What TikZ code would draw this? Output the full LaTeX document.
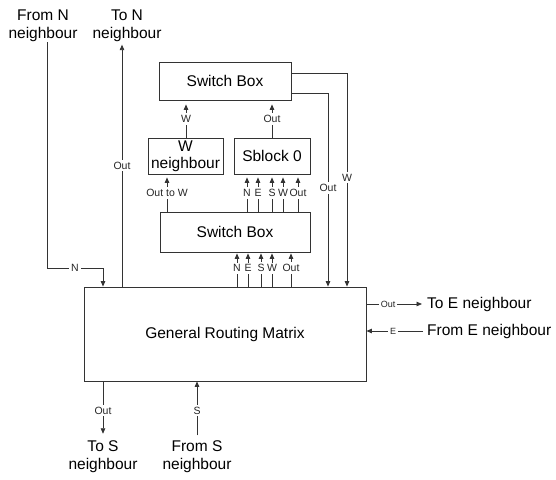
\documentclass[tikz,border=0pt]{standalone}
\usepackage{fontspec}
\setmainfont{Liberation Sans}
\usetikzlibrary{arrows.meta}
\begin{document}
\begin{tikzpicture}[x=1pt,y=-1pt,
  box/.style={draw=black!80, line width=0.8pt, font=\fontsize{15.5}{18}\selectfont, inner sep=1pt, align=center},
  txt/.style={font=\fontsize{15.5}{18}\selectfont, align=center, inner sep=0pt},
  lbl/.style={fill=white, inner sep=2pt, font=\fontsize{10.5}{12}\selectfont, text=black!85},
  slbl/.style={lbl, font=\fontsize{9}{10}\selectfont},
  wire/.style={draw=black!80, line width=0.8pt},
  arr/.style={wire, -{Triangle[length=5.5pt,width=4.5pt]}}]
\useasboundingbox (0,0) rectangle (556,479);

% boxes
\node[box, minimum width=132pt, minimum height=38pt] (sbtop) at (225,81) {Switch Box};
\node[box, minimum width=75pt, minimum height=36pt] (wn) at (185.5,156) {W\\[-1pt]neighbour};
\node[box, minimum width=76pt, minimum height=36pt] (sbl) at (272,156) {Sblock 0};
\node[box, minimum width=150pt, minimum height=40pt] (sbmid) at (235,232) {Switch Box};
\node[box, minimum width=282pt, minimum height=94pt] (grm) at (225,334) {General Routing Matrix};

% outside texts
\node[txt] (fromN) at (43,26) {From N\\neighbour};
\node[txt] (toN) at (127,26) {To N\\neighbour};
\node[txt] (toS) at (103,457) {To S\\neighbour};
\node[txt] (fromS) at (197,457) {From S\\neighbour};
\node[txt, anchor=west] (toE) at (427,304) {To E neighbour};
\node[txt, anchor=west] (fromE) at (427,331) {From E neighbour};

% helper coordinates
\coordinate (xNin) at (47,0);
\coordinate (nC1) at (47,268);
\coordinate (nC2) at (103,268);
\coordinate (xNout) at (122,0);
\coordinate (xOW) at (167,0);
\coordinate (xWu) at (186,0);
\coordinate (xOu) at (272,0);
\coordinate (xRO) at (328,0);
\coordinate (xRW) at (347,0);
\coordinate (yRW) at (0,73);
\coordinate (yRO) at (0,93);
\coordinate (yToE) at (0,304);
\coordinate (yFromE) at (0,331);
\coordinate (xS1) at (103,0);
\coordinate (xS2) at (197,0);

% From N
\draw[arr] (xNin |- fromN.south) -- (nC1) -- node[lbl]{N} (nC2) -- (nC2 |- grm.north);
% To N
\draw[arr, shorten >=2.5pt] (xNout |- grm.north) -- node[lbl, pos=0.495]{Out} (xNout |- toN.south);

% Switch box (middle) to Sblock inputs
\foreach \x/\l in {247/N,258/E,272/S,283/W,298/Out}{
  \coordinate (cc) at (\x,0);
  \draw[arr, shorten >=3pt] (cc |- sbmid.north) -- node[lbl, inner xsep=1pt]{\l} (cc |- sbl.south);
}
% Out to W
\draw[arr, shorten >=3pt] (xOW |- sbmid.north) -- node[lbl]{Out to W} (xOW |- wn.south);
% W and Out up to top switch box
\draw[arr, shorten >=4pt] (xWu |- wn.north) -- node[lbl]{W} (xWu |- sbtop.south);
\draw[arr, shorten >=4pt] (xOu |- sbl.north) -- node[lbl]{Out} (xOu |- sbtop.south);

% GRM to middle switch box
\foreach \x/\l in {237/N,248/E,261/S,272/W,291/Out}{
  \coordinate (cd) at (\x,0);
  \draw[arr, shorten >=1pt] (cd |- grm.north) -- node[lbl, inner xsep=1pt, pos=0.54]{\l} (cd |- sbmid.south);
}

% Right lines from top switch box to GRM
\draw[arr] (sbtop.east |- yRW) -| node[lbl, pos=0.745]{W} (xRW |- grm.north);
\draw[arr] (sbtop.east |- yRO) -| node[lbl, pos=0.745]{Out} (xRO |- grm.north);

% East side
\draw[arr, shorten >=5pt] (grm.east |- yToE) -- node[slbl, pos=0.36]{Out} (toE.west);
\draw[arr, shorten <=4pt] (fromE.west) -- node[slbl, pos=0.56]{E} (grm.east |- yFromE);

% South side
\draw[arr, shorten >=7pt] (xS1 |- grm.south) -- node[lbl, pos=0.49]{Out} (xS1 |- toS.north);
\draw[arr, shorten <=5.5pt] (xS2 |- fromS.north) -- node[lbl, pos=0.51]{S} (xS2 |- grm.south);
\end{tikzpicture}
\end{document}
